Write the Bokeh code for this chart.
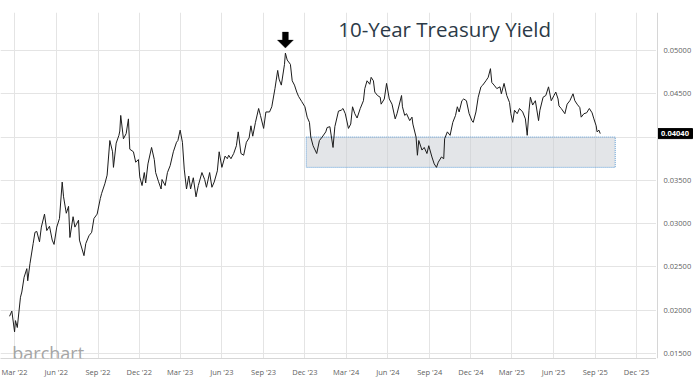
import numpy as np
import pandas as pd
from bokeh.plotting import figure
from bokeh.layouts import row
from bokeh.models import (ColumnDataSource, Range1d, FixedTicker, BoxAnnotation, Label,
                          PolyAnnotation, Grid, Span)
from bokeh.core.properties import value
from bokeh.embed import file_html
from bokeh.resources import INLINE

# ---------------- data ----------------
dates = [
    "2022-02-18", "2022-02-23", "2022-03-01", "2022-03-03", "2022-03-07", "2022-03-14", "2022-03-17",
    "2022-03-22", "2022-03-28", "2022-03-30", "2022-04-04", "2022-04-11", "2022-04-15", "2022-04-19",
    "2022-04-25", "2022-04-29", "2022-05-06", "2022-05-11", "2022-05-17", "2022-05-23", "2022-05-27",
    "2022-06-02", "2022-06-08", "2022-06-14", "2022-06-17", "2022-06-23", "2022-06-28", "2022-07-01",
    "2022-07-08", "2022-07-12", "2022-07-20", "2022-07-22", "2022-08-01", "2022-08-05", "2022-08-12",
    "2022-08-18", "2022-08-23", "2022-08-30", "2022-09-06", "2022-09-09", "2022-09-16", "2022-09-21",
    "2022-09-27", "2022-10-03", "2022-10-05", "2022-10-11", "2022-10-17", "2022-10-19", "2022-10-21",
    "2022-10-27", "2022-11-02", "2022-11-07", "2022-11-10", "2022-11-18", "2022-11-23", "2022-11-29",
    "2022-12-02", "2022-12-07", "2022-12-12", "2022-12-15", "2022-12-20", "2022-12-28", "2023-01-03",
    "2023-01-06", "2023-01-12", "2023-01-18", "2023-01-20", "2023-01-27", "2023-02-01", "2023-02-07",
    "2023-02-14", "2023-02-21", "2023-02-24", "2023-03-01", "2023-03-06", "2023-03-10", "2023-03-15",
    "2023-03-20", "2023-03-24", "2023-03-30", "2023-04-05", "2023-04-10", "2023-04-18", "2023-04-24",
    "2023-04-28", "2023-05-05", "2023-05-10", "2023-05-15", "2023-05-22", "2023-05-26", "2023-06-01",
    "2023-06-08", "2023-06-13", "2023-06-16", "2023-06-21", "2023-06-27", "2023-07-03", "2023-07-07",
    "2023-07-13", "2023-07-19", "2023-07-25", "2023-07-31", "2023-08-04", "2023-08-08", "2023-08-14",
    "2023-08-21", "2023-08-25", "2023-09-01", "2023-09-06", "2023-09-14", "2023-09-19", "2023-09-26",
    "2023-10-02", "2023-10-05", "2023-10-10", "2023-10-17", "2023-10-19", "2023-10-23", "2023-10-30",
    "2023-11-03", "2023-11-08", "2023-11-13", "2023-11-17", "2023-11-24", "2023-12-01", "2023-12-06",
    "2023-12-11", "2023-12-14", "2023-12-19", "2023-12-27", "2024-01-02", "2024-01-08", "2024-01-16",
    "2024-01-19", "2024-01-25", "2024-02-01", "2024-02-05", "2024-02-13", "2024-02-19", "2024-02-23",
    "2024-02-28", "2024-03-06", "2024-03-11", "2024-03-15", "2024-03-20", "2024-03-25", "2024-04-01",
    "2024-04-08", "2024-04-11", "2024-04-16", "2024-04-22", "2024-04-25", "2024-04-30", "2024-05-03",
    "2024-05-09", "2024-05-15", "2024-05-17", "2024-05-24", "2024-05-29", "2024-06-04", "2024-06-10",
    "2024-06-17", "2024-06-21", "2024-07-01", "2024-07-03", "2024-07-08", "2024-07-12", "2024-07-19",
    "2024-07-24", "2024-07-26", "2024-08-02", "2024-08-05", "2024-08-08", "2024-08-15", "2024-08-20",
    "2024-08-26", "2024-08-30", "2024-09-06", "2024-09-11", "2024-09-16", "2024-09-20", "2024-09-27",
    "2024-10-02", "2024-10-04", "2024-10-10", "2024-10-16", "2024-10-22", "2024-10-28", "2024-11-01",
    "2024-11-05", "2024-11-11", "2024-11-15", "2024-11-21", "2024-11-27", "2024-12-03", "2024-12-06",
    "2024-12-12", "2024-12-17", "2024-12-23", "2024-12-27", "2025-01-03", "2025-01-08", "2025-01-13",
    "2025-01-16", "2025-01-21", "2025-01-27", "2025-02-03", "2025-02-06", "2025-02-12", "2025-02-18",
    "2025-02-24", "2025-02-27", "2025-03-03", "2025-03-07", "2025-03-13", "2025-03-18", "2025-03-25",
    "2025-03-31", "2025-04-04", "2025-04-08", "2025-04-11", "2025-04-16", "2025-04-22", "2025-04-29",
    "2025-05-02", "2025-05-09", "2025-05-15", "2025-05-21", "2025-05-27", "2025-06-02", "2025-06-06",
    "2025-06-11", "2025-06-13", "2025-06-18", "2025-06-26", "2025-07-01", "2025-07-07", "2025-07-14",
    "2025-07-18", "2025-07-23", "2025-07-29", "2025-08-01", "2025-08-07", "2025-08-13", "2025-08-19",
    "2025-08-25", "2025-08-29", "2025-09-03", "2025-09-05", "2025-09-09", "2025-09-12",
]
yields = [
    0.0193, 0.0199, 0.0175, 0.0188, 0.0180, 0.0215, 0.0221,
    0.0238, 0.0248, 0.0234, 0.0254, 0.0277, 0.0290, 0.0291,
    0.0279, 0.0296, 0.0311, 0.0292, 0.0297, 0.0281, 0.0276,
    0.0296, 0.0306, 0.0348, 0.0331, 0.0312, 0.0320, 0.0284,
    0.0308, 0.0296, 0.0304, 0.0281, 0.0263, 0.0277, 0.0286,
    0.0290, 0.0306, 0.0311, 0.0329, 0.0335, 0.0346, 0.0356,
    0.0396, 0.0383, 0.0365, 0.0393, 0.0402, 0.0407, 0.0425,
    0.0398, 0.0404, 0.0421, 0.0386, 0.0383, 0.0371, 0.0374,
    0.0354, 0.0344, 0.0359, 0.0347, 0.0369, 0.0388, 0.0374,
    0.0359, 0.0349, 0.0340, 0.0351, 0.0344, 0.0359, 0.0367,
    0.0383, 0.0394, 0.0396, 0.0408, 0.0394, 0.0363, 0.0340,
    0.0355, 0.0340, 0.0353, 0.0331, 0.0344, 0.0359, 0.0351,
    0.0342, 0.0359, 0.0342, 0.0348, 0.0361, 0.0383, 0.0365,
    0.0378, 0.0375, 0.0379, 0.0375, 0.0381, 0.0390, 0.0406,
    0.0381, 0.0379, 0.0394, 0.0399, 0.0413, 0.0401, 0.0417,
    0.0433, 0.0425, 0.0410, 0.0429, 0.0429, 0.0435, 0.0456,
    0.0477, 0.0467, 0.0460, 0.0484, 0.0497, 0.0489, 0.0484,
    0.0465, 0.0460, 0.0452, 0.0447, 0.0441, 0.0435, 0.0423,
    0.0417, 0.0400, 0.0390, 0.0381, 0.0396, 0.0400, 0.0406,
    0.0411, 0.0412, 0.0388, 0.0412, 0.0430, 0.0431, 0.0433,
    0.0427, 0.0410, 0.0415, 0.0435, 0.0427, 0.0422, 0.0433,
    0.0442, 0.0456, 0.0465, 0.0461, 0.0469, 0.0465, 0.0452,
    0.0448, 0.0446, 0.0438, 0.0444, 0.0462, 0.0444, 0.0438,
    0.0421, 0.0427, 0.0448, 0.0435, 0.0425, 0.0427, 0.0419,
    0.0423, 0.0415, 0.0400, 0.0379, 0.0396, 0.0385, 0.0388,
    0.0381, 0.0390, 0.0377, 0.0369, 0.0365, 0.0371, 0.0377,
    0.0375, 0.0398, 0.0406, 0.0402, 0.0417, 0.0425, 0.0435,
    0.0429, 0.0442, 0.0444, 0.0442, 0.0427, 0.0419, 0.0417,
    0.0429, 0.0446, 0.0458, 0.0460, 0.0465, 0.0469, 0.0479,
    0.0463, 0.0460, 0.0456, 0.0458, 0.0450, 0.0462, 0.0448,
    0.0440, 0.0427, 0.0417, 0.0431, 0.0427, 0.0433, 0.0429,
    0.0421, 0.0402, 0.0431, 0.0446, 0.0437, 0.0442, 0.0419,
    0.0431, 0.0446, 0.0448, 0.0458, 0.0442, 0.0448, 0.0452,
    0.0444, 0.0436, 0.0433, 0.0427, 0.0438, 0.0442, 0.0450,
    0.0442, 0.0438, 0.0434, 0.0423, 0.0427, 0.0428, 0.0433,
    0.0428, 0.0421, 0.0413, 0.0406, 0.0408, 0.0404,
]
tick_dates = ["2022-03-01", "2022-06-01", "2022-09-01", "2022-12-01", "2023-03-01", "2023-06-01",
              "2023-09-01", "2023-12-01", "2024-03-01", "2024-06-01", "2024-09-01", "2024-12-01",
              "2025-03-01", "2025-06-01", "2025-09-01", "2025-12-01"]
tick_labels = ["Mar '22", "Jun '22", "Sep '22", "Dec '22", "Mar '23", "Jun '23", "Sep '23", "Dec '23",
               "Mar '24", "Jun '24", "Sep '24", "Dec '24", "Mar '25", "Jun '25", "Sep '25", "Dec '25"]
y_ticks = [0.015, 0.020, 0.025, 0.030, 0.035, 0.040, 0.045, 0.050]
zone_start, zone_end = "2023-12-04", "2025-10-15"
zone_low, zone_high = 0.0365, 0.0400
title_text = "10-Year Treasury Yield"
watermark = "barchart"


def ms(s):
    return int(pd.Timestamp(s).value // 10**6)


xs = [ms(d) for d in dates]
src = ColumnDataSource(dict(x=xs, y=yields))

# view ranges
x0, x1 = ms("2022-01-29"), ms("2026-01-14")
y0, y1 = 0.014422, 0.054389

PW, QW, H = 656, 44, 381
TOP, BOT = 12, 23
FONT = "Open Sans"
LBL_SIZE = "7.5px"
LBL_COLOR = "#5f5f5f"
AXIS_COLOR = "#d6d6d6"
GRID_COLOR = "#e4e4e4"

yr = Range1d(y0, y1)
p = figure(width=PW, height=H, x_range=Range1d(x0, x1), y_range=yr,
           y_axis_location=None, output_backend="svg", toolbar_location=None,
           min_border_left=0, min_border_right=0, min_border_top=TOP, min_border_bottom=BOT,
           background_fill_color="white", border_fill_color="white")
p.outline_line_color = None

# grids
p.center = [r for r in p.center if not (isinstance(r, Grid) and r.dimension == 1)]
p.add_layout(Grid(dimension=1, ticker=FixedTicker(ticks=y_ticks), grid_line_color=GRID_COLOR))
p.xgrid.grid_line_color = GRID_COLOR

# x axis
tick_ms = [ms(d) for d in tick_dates]
p.xaxis.ticker = FixedTicker(ticks=tick_ms)
p.xaxis.major_label_overrides = {t: l for t, l in zip(tick_ms, tick_labels)}
p.xaxis.axis_line_color = AXIS_COLOR
p.xaxis.major_tick_line_color = None
p.xaxis.minor_tick_line_color = None
p.xaxis.major_tick_out = 0
p.xaxis.major_tick_in = 0
p.xaxis.minor_tick_out = 0
p.xaxis.major_label_text_font = FONT
p.xaxis.major_label_text_font_size = LBL_SIZE
p.xaxis.major_label_text_color = LBL_COLOR
p.xaxis.major_label_standoff = 8

# support zone
zone = BoxAnnotation(left=ms(zone_start), right=ms(zone_end), bottom=zone_low, top=zone_high,
                     fill_color="#c7cbd1", fill_alpha=0.5, line_color="#5b9bd5", line_alpha=1,
                     line_width=1, line_dash="1 1", level="underlay")
p.add_layout(zone)

# series
p.line("x", "y", source=src, line_color="#1c1c1c", line_width=1)

# peak arrow
i_pk = int(np.argmax(yields))
pk_x, pk_y = xs[i_pk], yields[i_pk]
fh = H - TOP - BOT
dx = (x1 - x0) / PW
dy = (y1 - y0) / fh
arr_x = [pk_x - 3 * dx, pk_x + 3 * dx, pk_x + 3 * dx, pk_x + 8 * dx, pk_x, pk_x - 8 * dx, pk_x - 3 * dx]
arr_y = [pk_y + 21 * dy, pk_y + 21 * dy, pk_y + 13 * dy, pk_y + 13 * dy, pk_y + 5 * dy,
         pk_y + 13 * dy, pk_y + 13 * dy]
p.add_layout(PolyAnnotation(xs=arr_x, ys=arr_y, fill_color="black", fill_alpha=1,
                            line_color="black", line_width=1))

# title
p.add_layout(Label(x=ms("2024-10-04"), y=0.05254, text=title_text, text_font=FONT,
                   text_font_size="20.5px", text_color="#2c3a47", text_align="center",
                   text_baseline="alphabetic"))

# watermark
p.add_layout(Label(x=ms("2022-02-24"), y=0.01510, text=watermark, text_font=FONT,
                   text_font_size="18px", text_color="#a5a5a5", text_align="left",
                   text_baseline="alphabetic"))

# ---------------- right-hand price scale ----------------
q = figure(width=QW, height=H, x_range=Range1d(-1, QW - 1), y_range=yr,
           x_axis_location=None, y_axis_location=None, output_backend="svg",
           toolbar_location=None, min_border_left=0, min_border_right=0,
           min_border_top=TOP, min_border_bottom=BOT,
           background_fill_color="white", border_fill_color="white")
q.outline_line_color = None
q.xgrid.visible = False
q.ygrid.visible = False
q.add_layout(Span(location=0, dimension="height", line_color=AXIS_COLOR, line_width=1))

last = yields[-1]
shown = [t for t in y_ticks if abs(t - last) > 0.002]
q.text(x=[6] * len(shown), y=shown, text=[f"{t:.5f}" for t in shown],
       text_font=value(FONT), text_font_size=value(LBL_SIZE), text_color=LBL_COLOR,
       text_align="left", text_baseline="middle")
q.rect(x=[17.5], y=[last], width=[35], height=[10], height_units="screen",
       fill_color="black", line_color="black")
q.text(x=[17.5], y=[last], text=[f"{last:.5f}"], text_font=value(FONT),
       text_font_size=value(LBL_SIZE), text_font_style="bold", text_color="white",
       text_align="center", text_baseline="middle")

layout = row(p, q, spacing=0)
open("out.html", "w").write(file_html(layout, INLINE))
